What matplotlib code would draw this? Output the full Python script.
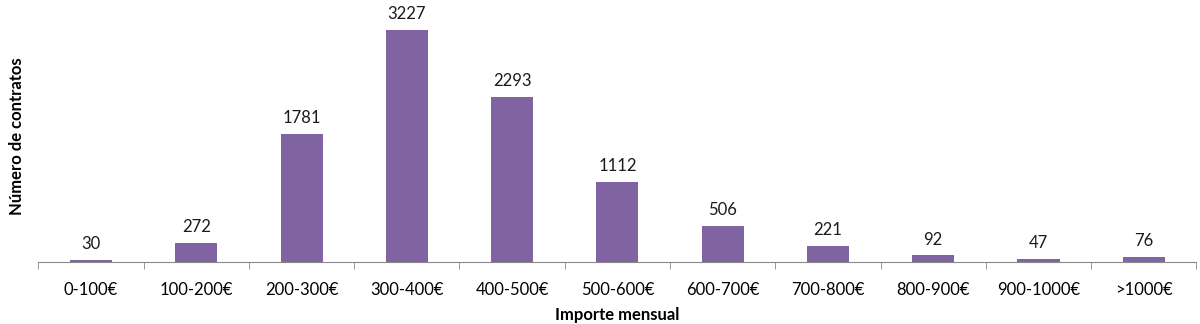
import matplotlib
matplotlib.use("Agg")
import matplotlib.pyplot as plt
import numpy as np

# rangos de importe y número de contratos
categories = ["0-100€", "100-200€", "200-300€", "300-400€", "400-500€", "500-600€",
              "600-700€", "700-800€", "800-900€", "900-1000€", ">1000€"]
contratos = [30, 272, 1781, 3227, 2293, 1112, 506, 221, 92, 47, 76]

plt.rcParams['font.family'] = ['Lato', 'DejaVu Sans']

fig = plt.figure(figsize=(12, 3.24), dpi=100)
ax = fig.add_axes([0.032, 0.191, 0.965, 0.778])

x = np.arange(len(categories))
bars = ax.bar(x, contratos, width=0.4, color="#8064A2")
for xi, v in zip(x, contratos):
    ax.text(xi, v + 110, str(v), ha="center", va="bottom", fontsize=12, color="#1a1a1a")

ax.set_xlim(-0.5, len(categories) - 0.5)
ax.set_ylim(0, 3500)
ax.set_yticks([])
ax.set_xticks(x)
ax.set_xticklabels(categories, fontsize=12)
ax.set_xticks(np.arange(-0.5, len(categories)), minor=True)
ax.tick_params(axis="x", which="major", length=0, pad=14)
ax.tick_params(axis="x", which="minor", length=5, color="#888888", direction="out")

for s in ["top", "right", "left"]:
    ax.spines[s].set_visible(False)
ax.spines["bottom"].set_color("#888888")

ax.set_xlabel("Importe mensual", fontsize=12, fontweight="bold", labelpad=7)
ax.set_ylabel("Número de contratos", fontsize=12, fontweight="bold", labelpad=10)

fig.savefig("out.png")
